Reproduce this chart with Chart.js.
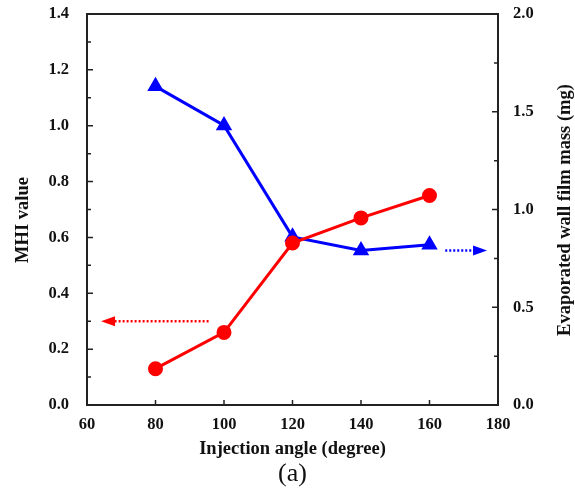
<!DOCTYPE html>
<html>
<head>
<meta charset="utf-8">
<script src="https://cdn.jsdelivr.net/npm/chart.js@4.4.1/dist/chart.umd.min.js"></script>
<style>
  html, body { margin: 0; padding: 0; background: #fff; }
  #wrap { width: 575px; height: 498px; }
</style>
</head>
<body>
<div id="wrap"><canvas id="chart"></canvas></div>
<script>
// injection angle (degree)
const angles = [80, 100, 120, 140, 160];
// MHI value, left axis
const mhiValues = [0.13, 0.26, 0.58, 0.67, 0.75];
// evaporated wall film mass (mg), right axis
const filmMass = [1.63, 1.43, 0.86, 0.79, 0.82];

const xTicks = [60, 80, 100, 120, 140, 160, 180];
const leftTicks = [0.0, 0.2, 0.4, 0.6, 0.8, 1.0, 1.2, 1.4];
const rightTicks = [0.0, 0.5, 1.0, 1.5, 2.0];

const FONT = "'Liberation Serif', 'Times New Roman', serif";
const RED = "#ff0000";
const BLUE = "#0000ff";

// frame, inward ticks, axis titles and the dotted direction arrows
const decorations = {
  id: "decorations",
  afterDraw(chart) {
    const { ctx, chartArea: a, scales } = chart;
    const x = scales.x, yl = scales.y, yr = scales.y2;
    ctx.save();
    ctx.strokeStyle = "#222";
    ctx.lineWidth = 2;
    ctx.strokeRect(a.left, a.top, a.right - a.left, a.bottom - a.top);

    ctx.lineWidth = 1.5;
    ctx.beginPath();
    for (let v = 60; v <= 180; v += 20) {
      const px = x.getPixelForValue(v);
      ctx.moveTo(px, a.bottom); ctx.lineTo(px, a.bottom - 5);
    }
    for (let i = 1; i < 14; i++) {
      const py = yl.getPixelForValue(i / 10);
      ctx.moveTo(a.left, py); ctx.lineTo(a.left + (i % 2 ? 4 : 6), py);
    }
    for (let i = 1; i < 8; i++) {
      const py = yr.getPixelForValue(i * 0.25);
      ctx.moveTo(a.right, py); ctx.lineTo(a.right - (i % 2 ? 4 : 6), py);
    }
    ctx.stroke();

    // arrows pointing to the axis each series belongs to
    const arrow = (x0, x1, py, color) => {
      const dir = Math.sign(x1 - x0);
      ctx.strokeStyle = color;
      ctx.fillStyle = color;
      ctx.lineWidth = 2.5;
      ctx.setLineDash([2, 2]);
      ctx.beginPath();
      ctx.moveTo(x0, py); ctx.lineTo(x1 - dir * 12, py);
      ctx.stroke();
      ctx.setLineDash([]);
      ctx.beginPath();
      ctx.moveTo(x1, py);
      ctx.lineTo(x1 - dir * 14, py - 5);
      ctx.lineTo(x1 - dir * 14, py + 5);
      ctx.closePath();
      ctx.fill();
    };
    arrow(x.getPixelForValue(95.5), x.getPixelForValue(64.1), yl.getPixelForValue(0.3), RED);
    arrow(x.getPixelForValue(164.6), x.getPixelForValue(176.8), yr.getPixelForValue(0.79), BLUE);

    ctx.fillStyle = "#111";
    ctx.textAlign = "center";
    ctx.textBaseline = "middle";
    ctx.font = "bold 18.5px " + FONT;
    ctx.fillText("Injection angle (degree)", (a.left + a.right) / 2, 449);
    ctx.font = "26px " + FONT;
    ctx.fillText("(a)", (a.left + a.right) / 2, 474);

    ctx.font = "bold 18.5px " + FONT;
    ctx.translate(23, 220);
    ctx.rotate(-Math.PI / 2);
    ctx.fillText("MHI value", 0, 0);
    ctx.restore();

    ctx.save();
    ctx.fillStyle = "#111";
    ctx.textAlign = "center";
    ctx.textBaseline = "middle";
    ctx.font = "bold 18.5px " + FONT;
    ctx.translate(565, 210);
    ctx.rotate(-Math.PI / 2);
    ctx.fillText("Evaporated wall film mass (mg)", 0, 0);
    ctx.restore();
  }
};

const tickFont = { family: FONT, size: 16.5, weight: "bold" };

// fixed box sizes so the plot frame sits where it should
const fitBox = (w, h) => s => {
  if (w) s.width = w;
  if (h) s.height = h;
  s.paddingTop = 0; s.paddingBottom = 0;
  s.paddingLeft = 0; s.paddingRight = 0;
};

new Chart(document.getElementById("chart"), {
  type: "line",
  data: {
    datasets: [
      {
        label: "MHI value",
        data: angles.map((a, i) => ({ x: a, y: mhiValues[i] })),
        borderColor: RED,
        backgroundColor: RED,
        borderWidth: 3,
        pointStyle: "circle",
        pointRadius: 6,
        pointHoverRadius: 6,
        yAxisID: "y"
      },
      {
        label: "Evaporated wall film mass (mg)",
        data: angles.map((a, i) => ({ x: a, y: filmMass[i] })),
        borderColor: BLUE,
        backgroundColor: BLUE,
        borderWidth: 3,
        pointStyle: "triangle",
        pointRadius: 6.5,
        pointHoverRadius: 6.5,
        yAxisID: "y2"
      }
    ]
  },
  options: {
    responsive: true,
    maintainAspectRatio: false,
    animation: false,
    layout: { padding: { top: 14, left: 0, right: 0, bottom: 0 } },
    plugins: { legend: { display: false }, tooltip: { enabled: false } },
    scales: {
      x: {
        type: "linear",
        min: 60, max: 180,
        afterBuildTicks: s => { s.ticks = xTicks.map(v => ({ value: v })); },
        afterFit: fitBox(0, 93),
        grid: { display: false, drawTicks: false },
        border: { display: false },
        ticks: { font: tickFont, color: "#111", padding: 10 }
      },
      y: {
        position: "left",
        min: 0, max: 1.4,
        afterBuildTicks: s => { s.ticks = leftTicks.map(v => ({ value: v })); },
        afterFit: fitBox(87, 0),
        grid: { display: false, drawTicks: false },
        border: { display: false },
        ticks: { font: tickFont, color: "#111", padding: 18, callback: v => v.toFixed(1) }
      },
      y2: {
        position: "right",
        min: 0, max: 2.0,
        afterBuildTicks: s => { s.ticks = rightTicks.map(v => ({ value: v })); },
        afterFit: fitBox(77, 0),
        grid: { display: false, drawTicks: false },
        border: { display: false },
        ticks: { font: tickFont, color: "#111", padding: 15, callback: v => v.toFixed(1) }
      }
    }
  },
  plugins: [decorations]
});
</script>
</body>
</html>
